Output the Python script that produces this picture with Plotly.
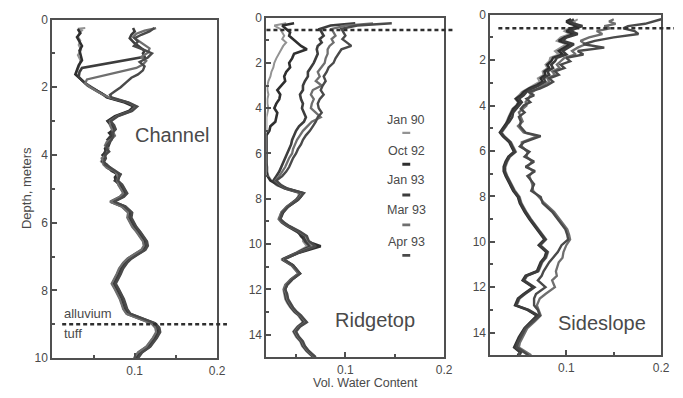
import plotly.graph_objects as go

# ---------------------------------------------------------------- series
SERIES = ["Jan 90", "Oct 92", "Jan 93", "Mar 93", "Apr 93"]
COLORS = ["#939393", "#2f2f2f", "#3d3d3d", "#6f6f6f", "#4a4a4a"]
WIDTHS = [2.0, 2.6, 2.6, 2.3, 2.4]

# ---------------------------------------------------------------- Channel (depth in m, vol. water content)
ch_top_depth_jan90 = [0.25, 0.27, 0.32, 0.4, 0.5, 0.62, 0.75, 0.9, 1.05, 1.2, 1.35, 1.5, 1.6, 1.7, 1.8, 1.9, 2.0, 2.1, 2.2]
ch_top_jan90 = [0.040, 0.031, 0.036, 0.033, 0.031, 0.034, 0.032, 0.035, 0.031, 0.034, 0.033, 0.031, 0.029, 0.033, 0.036, 0.042, 0.048, 0.055, 0.062]
ch_top_depth_oct92 = [0.28, 0.4, 0.52, 0.65, 0.78, 0.92, 1.05, 1.2, 1.35, 1.5, 1.62, 1.75, 1.88, 2.0, 2.1, 2.2]
ch_top_oct92 = [0.031, 0.034, 0.030, 0.033, 0.036, 0.033, 0.034, 0.036, 0.032, 0.030, 0.028, 0.034, 0.040, 0.047, 0.054, 0.061]
ch_top_depth_jan93 = [0.25, 0.35, 0.45, 0.55, 0.68, 0.8, 0.92, 1.0, 1.1, 1.43, 1.55, 1.7, 1.82, 1.95, 2.05, 2.15, 2.22]
ch_top_jan93 = [0.098, 0.100, 0.096, 0.094, 0.099, 0.106, 0.112, 0.110, 0.112, 0.036, 0.033, 0.032, 0.037, 0.043, 0.050, 0.057, 0.063]
ch_top_depth_mar93 = [0.25, 0.33, 0.42, 0.52, 0.62, 0.72, 0.85, 0.98, 1.1, 1.22, 1.33, 1.43, 1.77, 1.88, 2.0, 2.1, 2.2]
ch_top_mar93 = [0.126, 0.112, 0.102, 0.098, 0.104, 0.110, 0.118, 0.116, 0.108, 0.114, 0.110, 0.102, 0.042, 0.040, 0.046, 0.053, 0.060]
ch_top_depth_apr93 = [0.25, 0.35, 0.45, 0.55, 0.65, 0.78, 0.9, 1.0, 1.12, 1.25, 1.38, 1.5, 1.62, 1.72, 1.85, 2.0, 2.12, 2.22]
ch_top_apr93 = [0.124, 0.118, 0.108, 0.100, 0.104, 0.099, 0.112, 0.121, 0.116, 0.106, 0.112, 0.110, 0.104, 0.096, 0.090, 0.083, 0.076, 0.070]

ch_deep_depth = [2.3, 2.45, 2.57, 2.7, 2.85, 3.0, 3.12, 3.24, 3.35, 3.43,
                 3.55, 3.62, 3.72, 3.81, 3.9, 4.0, 4.1, 4.19, 4.28, 4.38,
                 4.47, 4.57, 4.66, 4.76, 4.88, 5.04, 5.13, 5.23, 5.38, 5.52,
                 5.7, 5.85, 5.98, 6.12, 6.27, 6.42, 6.55, 6.68, 6.8, 6.95,
                 7.06, 7.18, 7.35, 7.52, 7.66, 7.8, 7.97, 8.1, 8.26, 8.4,
                 8.55, 8.69, 8.83, 8.97, 9.1, 9.23, 9.4, 9.53, 9.66, 9.83,
                 9.95, 10.0]
ch_deep_jan90 = [.067, .089, .101, .095, .078, .069, .074, .073, .071, .075,
                 .070, .067, .065, .066, .068, .063, .061, .059, .063, .069,
                 .075, .081, .078, .079, .083, .087, .089, .085, .073, .087,
                 .095, .094, .097, .100, .105, .109, .113, .114, .111, .101,
                 .094, .089, .084, .081, .078, .075, .079, .082, .085, .087,
                 .089, .093, .109, .123, .128, .129, .125, .121, .117, .107,
                 .103, .102]
ch_deep_oct92 = [.066, .088, .099, .093, .076, .067, .071, .075, .069, .072,
                 .068, .069, .067, .064, .065, .061, .064, .061, .065, .067,
                 .073, .079, .076, .077, .081, .085, .087, .083, .071, .085,
                 .093, .092, .095, .098, .103, .107, .111, .112, .109, .099,
                 .092, .087, .082, .079, .076, .073, .077, .080, .083, .085,
                 .087, .091, .107, .121, .126, .127, .123, .119, .115, .105,
                 .101, .100]
ch_deep_jan93 = [.068, .091, .100, .094, .078, .068, .073, .076, .072, .071,
                 .067, .070, .068, .067, .064, .063, .062, .061, .066, .070,
                 .072, .082, .079, .076, .084, .088, .090, .086, .074, .088,
                 .096, .095, .098, .101, .106, .110, .114, .115, .112, .102,
                 .095, .090, .085, .082, .079, .076, .080, .083, .086, .088,
                 .090, .094, .110, .124, .129, .130, .126, .122, .118, .108,
                 .104, .103]
ch_deep_mar93 = [.069, .092, .102, .096, .079, .070, .070, .072, .074, .076,
                 .071, .066, .064, .068, .067, .065, .060, .062, .062, .066,
                 .076, .078, .080, .079, .080, .084, .086, .082, .070, .084,
                 .092, .091, .094, .097, .102, .106, .110, .111, .108, .098,
                 .091, .086, .081, .078, .075, .072, .076, .079, .082, .084,
                 .086, .090, .106, .120, .125, .126, .122, .118, .114, .104,
                 .100, .099]
ch_deep_apr93 = [.072, .093, .103, .097, .080, .071, .075, .077, .073, .074,
                 .072, .069, .066, .066, .069, .064, .065, .063, .064, .071,
                 .077, .083, .081, .080, .085, .089, .091, .087, .075, .089,
                 .097, .096, .099, .102, .107, .111, .115, .116, .113, .103,
                 .096, .091, .086, .083, .080, .077, .081, .084, .087, .089,
                 .091, .095, .111, .125, .130, .131, .127, .123, .119, .109,
                 .105, .104]

# ---------------------------------------------------------------- Ridgetop
rt_depth = [0.25, 0.35, 0.5, 0.65, 0.8, 0.95, 1.1, 1.25, 1.4,
            1.6, 1.8, 2.0, 2.2, 2.4, 2.6, 2.8, 3.0, 3.2, 3.4,
            3.6, 3.8, 4.0, 4.2, 4.4, 4.6, 4.8, 5.0, 5.2, 5.4,
            5.6, 5.8, 6.0, 6.2, 6.4, 6.6, 6.8, 7.0, 7.2, 7.4,
            7.55, 7.75, 7.9, 8.05, 8.2, 8.35, 8.6, 8.9, 9.05, 9.2,
            9.45, 9.65, 9.87, 10.1, 10.38, 10.68, 10.94, 11.3, 11.57, 11.8,
            12.0, 12.2, 12.43, 12.6, 12.8, 13.0, 13.15, 13.45, 13.65, 13.87,
            14.1, 14.3, 14.5, 14.72, 15.0]
rt_jan90 = [.040, .028, .034, .036, .038, .036, .040, .037, .035,
            .033, .030, .028, .027, .025, .024, .022, .021, .021, .022,
            .021, .021, .022, .021, .020, .020, .020, .020, .020, .020,
            .020, .020, .020, .020, .020, .021, .021, .022, .025, .030,
            .038, .053, .052, .050, .045, .040, .035, .032, .035, .040,
            .050, .057, .057, .061, .050, .035, .045, .052, .044, .039,
            .037, .038, .039, .041, .044, .048, .052, .057, .051, .047,
            .050, .054, .056, .060, .067]
rt_oct92 = [.048, .036, .040, .044, .043, .047, .050, .055, .061,
            .048, .046, .043, .044, .040, .038, .039, .035, .031, .034,
            .033, .030, .028, .031, .030, .029, .024, .023, .020, .020,
            .020, .020, .020, .020, .020, .020, .020, .021, .024, .032,
            .041, .057, .055, .052, .047, .042, .037, .034, .037, .042,
            .052, .055, .060, .075, .053, .037, .047, .054, .046, .041,
            .039, .040, .041, .043, .046, .050, .054, .059, .053, .049,
            .052, .056, .058, .062, .069]
rt_jan93 = [.110, .085, .074, .076, .078, .074, .076, .072, .071,
            .072, .070, .068, .065, .062, .062, .059, .057, .057, .054,
            .055, .057, .056, .058, .060, .058, .053, .050, .048, .046,
            .045, .043, .041, .039, .037, .035, .033, .030, .027, .032,
            .039, .055, .053, .050, .046, .041, .036, .033, .036, .041,
            .051, .058, .059, .064, .051, .036, .046, .053, .045, .040,
            .038, .039, .040, .042, .045, .049, .053, .058, .052, .048,
            .051, .055, .057, .061, .068]
rt_mar93 = [.128, .100, .086, .088, .090, .086, .088, .084, .082,
            .082, .080, .079, .075, .072, .074, .070, .076, .067, .065,
            .068, .066, .065, .070, .075, .066, .061, .057, .054, .051,
            .049, .047, .046, .043, .041, .039, .036, .033, .029, .034,
            .040, .056, .054, .051, .046, .041, .035, .033, .037, .042,
            .053, .060, .062, .068, .052, .037, .046, .053, .045, .039,
            .038, .040, .041, .043, .046, .050, .054, .060, .053, .049,
            .052, .056, .058, .062, .069]
rt_apr93 = [.147, .112, .096, .098, .100, .097, .102, .106, .096,
            .093, .090, .088, .083, .081, .078, .080, .077, .075, .078,
            .074, .072, .073, .076, .072, .070, .067, .064, .060, .057,
            .055, .052, .050, .047, .045, .043, .040, .036, .030, .035,
            .041, .058, .055, .052, .047, .042, .036, .034, .038, .043,
            .054, .061, .063, .070, .053, .038, .047, .054, .046, .041,
            .039, .041, .042, .044, .047, .051, .055, .061, .054, .050,
            .053, .057, .059, .063, .070]

# ---------------------------------------------------------------- Sideslope
ss_depth = [0.2, 0.3, 0.4, 0.5, 0.6, 0.72, 0.85, 1.0, 1.15, 1.3,
            1.45, 1.6, 1.75, 1.9, 2.05, 2.2, 2.35, 2.5, 2.65, 2.8,
            2.95, 3.1, 3.25, 3.4, 3.55, 3.7, 3.85, 4.0, 4.15, 4.3,
            4.5, 4.7,
            4.9, 5.19, 5.35, 5.62, 5.8, 6.04, 6.25, 6.47, 6.7, 6.89,
            7.1, 7.46, 7.75, 8.03, 8.3, 8.68, 9.0, 9.45, 9.7, 9.9,
            10.15, 10.45, 10.7, 10.9, 11.3, 11.5, 11.7, 12.0, 12.3, 12.5,
            12.8, 13.0, 13.25, 13.5, 13.8, 14.2, 14.45, 14.65, 14.85, 15.0]
ss_jan90 = [.112, .108, .110, .114, .102, .098, .104, .094, .090, .100,
            .094, .088, .092, .083, .082, .078, .080, .075, .076, .070,
            .072, .066, .059, .053, .050, .046, .049, .047, .043, .041,
            .039, .037,
            .037, .032, .035, .042, .044, .047, .041, .038, .036, .036,
            .038, .042, .046, .051, .053, .058, .063, .071, .075, .079,
            .073, .081, .079, .075, .071, .059, .056, .067, .057, .051,
            .048, .061, .071, .065, .058, .052, .049, .047, .053, .051]
ss_oct92 = [.105, .100, .104, .112, .106, .100, .108, .098, .092, .104,
            .098, .092, .096, .086, .084, .080, .082, .077, .078, .073,
            .075, .069, .061, .055, .052, .047, .050, .048, .044, .042,
            .040, .038,
            .035, .030, .033, .040, .042, .045, .039, .036, .034, .034,
            .036, .040, .044, .049, .051, .056, .061, .069, .073, .077,
            .071, .079, .077, .073, .069, .057, .054, .065, .055, .049,
            .046, .059, .069, .063, .056, .050, .047, .045, .051, .049]
ss_jan93 = [.108, .104, .108, .117, .110, .104, .112, .100, .096, .108,
            .102, .096, .100, .090, .088, .084, .086, .080, .082, .076,
            .078, .072, .064, .058, .055, .050, .053, .050, .046, .044,
            .043, .040,
            .036, .031, .034, .041, .043, .046, .040, .037, .035, .035,
            .037, .041, .045, .050, .052, .057, .062, .070, .074, .078,
            .072, .080, .078, .074, .070, .058, .055, .066, .056, .050,
            .047, .060, .070, .064, .057, .051, .048, .046, .052, .050]
ss_mar93 = [.150, .145, .152, .140, .146, .132, .138, .124, .115, .120,
            .112, .106, .110, .098, .094, .090, .093, .085, .088, .080,
            .082, .076, .070, .064, .062, .060, .057, .058, .054, .050,
            .052, .054,
            .049, .055, .070, .053, .053, .059, .058, .064, .059, .065,
            .061, .064, .065, .071, .077, .087, .093, .101, .103, .104,
            .100, .097, .096, .092, .089, .090, .085, .088, .078, .072,
            .069, .071, .073, .067, .059, .054, .051, .050, .057, .063]
ss_apr93 = [.200, .192, .183, .165, .160, .172, .176, .150, .130, .118,
            .140, .112, .118, .100, .104, .094, .098, .088, .092, .082,
            .086, .080, .072, .060, .066, .058, .062, .055, .052, .056,
            .050, .052,
            .051, .057, .073, .055, .051, .061, .056, .066, .057, .067,
            .059, .066, .063, .073, .075, .085, .091, .099, .101, .102,
            .095, .091, .086, .082, .076, .074, .070, .078, .068, .066,
            .066, .070, .072, .065, .057, .052, .049, .048, .055, .060]

# ---------------------------------------------------------------- layers / labels
BOUNDARY_DEPTHS = [9.0, 0.55, 0.6]           # Channel, Ridgetop, Sideslope
LEGEND_TEXT_DEPTHS = [4.50, 5.89, 7.19, 8.51, 9.89]
LEGEND_SWATCH_DEPTHS = [5.09, 6.48, 7.83, 9.15, 10.5]

channel = [
    (ch_top_depth_jan90 + ch_deep_depth, ch_top_jan90 + ch_deep_jan90),
    (ch_top_depth_oct92 + ch_deep_depth, ch_top_oct92 + ch_deep_oct92),
    (ch_top_depth_jan93 + ch_deep_depth, ch_top_jan93 + ch_deep_jan93),
    (ch_top_depth_mar93 + ch_deep_depth, ch_top_mar93 + ch_deep_mar93),
    (ch_top_depth_apr93 + ch_deep_depth, ch_top_apr93 + ch_deep_apr93),
]
ridgetop = [(rt_depth, v) for v in (rt_jan90, rt_oct92, rt_jan93, rt_mar93, rt_apr93)]
sideslope = [(ss_depth, v) for v in (ss_jan90, ss_oct92, ss_jan93, ss_mar93, ss_apr93)]

W, H = 683, 398
FONT = "Liberation Sans, Arial, Helvetica, sans-serif"
INK = "#4a4a4a"
FRAME = "#505050"

fig = go.Figure()

panels = [("x", "y", channel), ("x2", "y2", ridgetop), ("x3", "y3", sideslope)]
for xa, ya, profiles in panels:
    for i, (depth, theta) in enumerate(profiles):
        fig.add_trace(go.Scatter(
            x=theta, y=depth, xaxis=xa, yaxis=ya, mode="lines",
            name=SERIES[i], showlegend=False,
            line=dict(color=COLORS[i], width=WIDTHS[i]),
        ))


def px_x(p):
    return p / W


def px_y(p):
    return 1 - p / H


def xaxis(dom, rng):
    return dict(
        domain=[px_x(dom[0]), px_x(dom[1])], range=rng,
        tickvals=[0.1, 0.2], ticktext=["0.1", "0.2"],
        ticks="inside", ticklen=5, tickwidth=1.5, tickcolor=FRAME,
        minor=dict(tickvals=[0.05, 0.15], ticks="inside", ticklen=3, tickcolor=FRAME),
        showline=True, linecolor=FRAME, linewidth=2, mirror=True,
        showgrid=False, zeroline=False,
        tickfont=dict(family=FONT, size=12, color=INK),
    )


def yaxis(dom, maxdepth, anchor):
    return dict(
        domain=[px_y(dom[1]), px_y(dom[0])], range=[maxdepth, 0],
        anchor=anchor, tickmode="linear", tick0=0, dtick=2,
        ticks="inside", ticklen=5, tickwidth=1.5, tickcolor=FRAME,
        minor=dict(dtick=1, tick0=0, ticks="inside", ticklen=3, tickcolor=FRAME),
        showline=True, linecolor=FRAME, linewidth=2, mirror=True,
        showgrid=False, zeroline=False,
        tickfont=dict(family=FONT, size=12, color=INK),
    )


fig.update_layout(
    width=W, height=H, autosize=False,
    margin=dict(l=0, r=0, t=0, b=0),
    paper_bgcolor="white", plot_bgcolor="white",
    xaxis=dict(xaxis((53, 220), [0, 0.2]), anchor="y"),
    xaxis2=dict(xaxis((270, 450), [0.02, 0.2]), anchor="y2"),
    xaxis3=dict(xaxis((497, 670), [0.02, 0.2]), anchor="y3"),
    yaxis=yaxis((13, 364), 10, "x"),
    yaxis2=yaxis((11, 363), 15, "x2"),
    yaxis3=yaxis((8, 361), 15, "x3"),
)

# dashed boundaries (alluvium / tuff contact, near-surface layer)
spans = [(63, 230, "y"), (270, 460, "y2"), (505, 683, "y3")]
for (a, b, yref), d in zip(spans, BOUNDARY_DEPTHS):
    fig.add_shape(type="line", xref="paper", yref=yref,
                  x0=px_x(a), x1=px_x(b), y0=d, y1=d,
                  line=dict(color="#2e2e2e", width=2.5, dash="4px,3px"))


def label(text, x, y, xref, yref, size, xanchor="center", angle=0):
    fig.add_annotation(x=x, y=y, xref=xref, yref=yref, text=text,
                       showarrow=False, xanchor=xanchor, yanchor="middle",
                       textangle=angle,
                       font=dict(family=FONT, size=size, color=INK))


# in-panel key for the survey dates
for i, name in enumerate(SERIES):
    label(name, 0.1617, LEGEND_TEXT_DEPTHS[i], "x2", "y2", 12.5)
    fig.add_shape(type="line", xref="x2", yref="y2",
                  x0=0.1577, x1=0.1657,
                  y0=LEGEND_SWATCH_DEPTHS[i], y1=LEGEND_SWATCH_DEPTHS[i],
                  line=dict(color=COLORS[i], width=WIDTHS[i] + 0.4))

label("Channel", 0.146, 3.42, "x", "y", 20)
label("Ridgetop", 0.130, 13.36, "x2", "y2", 20)
label("Sideslope", 0.1376, 13.57, "x3", "y3", 20)

label("alluvium", 0.012, 8.69, "x", "y", 13, xanchor="left")
label("tuff", 0.012, 9.26, "x", "y", 13, xanchor="left")

label("Depth, meters", px_x(27), px_y(188), "paper", "paper", 13, angle=-90)
label("Vol. Water Content", px_x(370), px_y(390), "paper", "paper", 12.5)

fig.write_html("out.html")
